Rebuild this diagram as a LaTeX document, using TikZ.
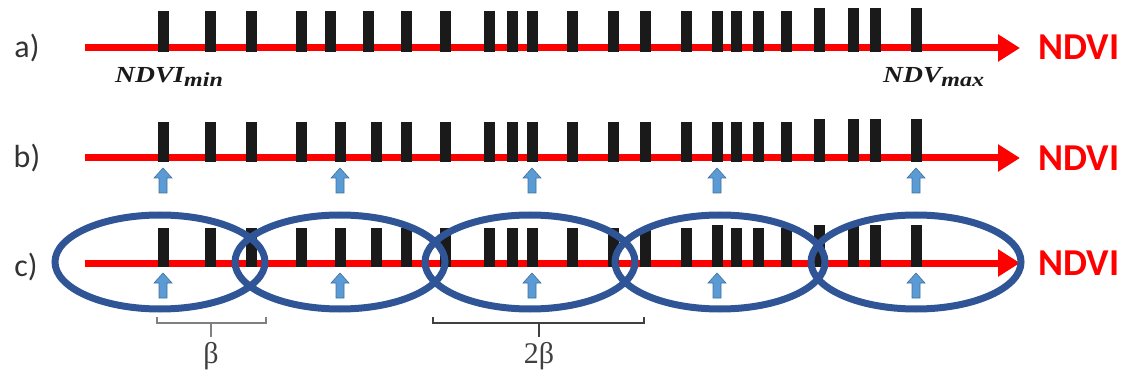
\documentclass[tikz,border=0pt]{standalone}
\usepackage{fontspec}
\usepackage{graphicx}
\setmainfont{Carlito}
\newfontfamily\serifgr{Liberation Serif}
\usetikzlibrary{arrows.meta,calc}
\definecolor{barc}{HTML}{1A1A1A}
\definecolor{ringc}{HTML}{2F5597}
\definecolor{upfill}{HTML}{5B9BD5}
\definecolor{updraw}{HTML}{41719C}
\definecolor{labc}{HTML}{333333}
\definecolor{brgray}{HTML}{808080}
\definecolor{brdark}{HTML}{404040}
\newcommand{\extlabtext}[2]{\scalebox{1.2}[1]{\fontsize{23}{26}\selectfont\serifgr\bfseries\itshape #1\raisebox{-4pt}{\fontsize{20}{22}\selectfont #2}}}
\tikzset{
  axisline/.style={draw=red, line width=7pt, -{Triangle[length=22pt,width=26pt]}},
  barbox/.style={fill=barc},
  ring/.style={draw=ringc, line width=7pt},
  uparrow/.style={fill=upfill, draw=updraw, line width=0.6pt},
  rowlab/.style={text=labc, font=\fontsize{32}{36}\selectfont, inner sep=0pt},
  ndvilab/.style={text=red, font=\fontsize{38}{42}\selectfont\bfseries, inner sep=0pt},
  extlab/.style={text=barc, inner sep=0pt},
  bracketg/.style={draw=brgray, line width=1.5pt},
  bracketd/.style={draw=brdark, line width=1.5pt},
  betalab/.style={font=\fontsize{30}{34}\selectfont\serifgr, inner sep=0pt},
}
\begin{document}
\begin{tikzpicture}[x=1pt,y=-1pt]
\useasboundingbox (0,0) rectangle (1131,379);
% row labels
\node[rowlab] (la) at (27,48) {a)};
\node[rowlab] (lb) at (27,158) {b)};
\node[rowlab] (lc) at (26,267) {c)};
% axes
\coordinate (a0) at (85,48); \coordinate (a1) at (1020,48);
\coordinate (b0) at (85,158); \coordinate (b1) at (1020,158);
\coordinate (c0) at (85,263); \coordinate (c1) at (1020,263);
\draw[axisline] (a0) -- (a1);
\draw[axisline] (b0) -- (b1);
\draw[axisline] (c0) -- (c1);
\node[ndvilab] (na) at (1079,47) {NDVI};
\node[ndvilab] (nb) at (1079,158) {NDVI};
\node[ndvilab] (nc) at (1079,263) {NDVI};
% bars row a
\foreach \x in {163,210,251,301,330,368,406,445,489,512,532,572,613,645,686,717,736,758,786}
  \fill[barbox] (\x-5.5,11) rectangle (\x+5.5,52);
\foreach \x in {819,853,875,916}
  \fill[barbox] (\x-5.5,8) rectangle (\x+5.5,52);
% bars row b
\foreach \x in {163,210,251,301,340,376,406,445,489,512,532,572,613,645,686,717,736,758,786}
  \fill[barbox] (\x-5.5,122) rectangle (\x+5.5,162);
\foreach \x in {819,853,875,916}
  \fill[barbox] (\x-5.5,119) rectangle (\x+5.5,162);
% bars row c
\foreach \x in {163,210,251,301,340,376,406,445,489,512,532,572,613,645,686,736,758,786}
  \fill[barbox] (\x-5.5,228) rectangle (\x+5.5,267);
\foreach \x in {717,819,853,875,916}
  \fill[barbox] (\x-5.5,225) rectangle (\x+5.5,267);
% extreme labels
\node[extlab, anchor=base west] (nmin) at (115,83) {\extlabtext{NDVI}{min}};
\node[extlab, anchor=base west] (nmax) at (883,83) {\extlabtext{NDV}{max}};
% up arrows
\foreach \x in {163,340,532,717,916}{
  \filldraw[uparrow] (\x,168) -- (\x+9,178) -- (\x+4,178) -- (\x+4,193) -- (\x-4,193) -- (\x-4,178) -- (\x-9,178) -- cycle;
  \filldraw[uparrow] (\x,273) -- (\x+9,283) -- (\x+4,283) -- (\x+4,298) -- (\x-4,298) -- (\x-4,283) -- (\x-9,283) -- cycle;
}
% rings
\foreach \x in {160,340,530,720,916}
  \draw[ring] (\x,262) ellipse [x radius=105, y radius=47];
% brackets
\coordinate (g0) at (157,323); \coordinate (g1) at (266,323); \coordinate (gm) at (211,323);
\draw[bracketg] ($(g0)+(0,-6)$) -- (g0) -- (g1) -- ($(g1)+(0,-6)$);
\draw[bracketg] (gm) -- ++(0,14);
\node[betalab, text=brdark] (beta) at (211,356) {β};
\coordinate (h0) at (433,323); \coordinate (h1) at (644,323); \coordinate (hm) at (539,323);
\draw[bracketd] ($(h0)+(0,-6)$) -- (h0) -- (h1) -- ($(h1)+(0,-6)$);
\draw[bracketd] (hm) -- ++(0,14);
\node[betalab, text=brdark] (twobeta) at (539,356) {2β};
\end{tikzpicture}
\end{document}
